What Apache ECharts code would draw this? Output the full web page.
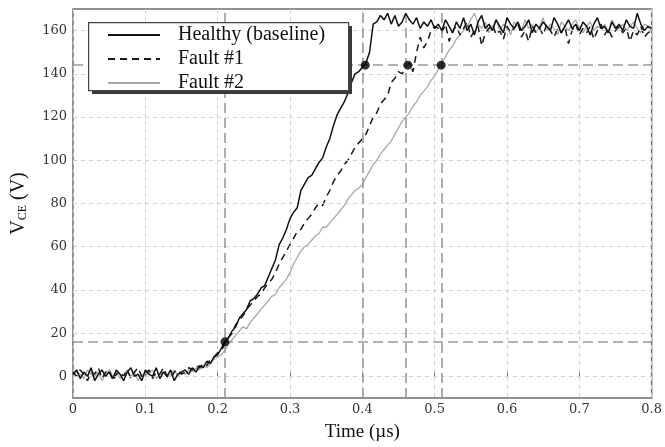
<!DOCTYPE html>
<html>
<head>
<meta charset="utf-8">
<script src="https://cdn.jsdelivr.net/npm/echarts@6/dist/echarts.min.js"></script>
<style>html,body{margin:0;padding:0;background:#fff;}#c{width:665px;height:447px;}</style>
</head>
<body>
<div id="c"></div>
<script>
// sampling step of the recorded waveforms (µs)
const dt = 0.005;
const xTicks = [0, 0.1, 0.2, 0.3, 0.4, 0.5, 0.6, 0.7, 0.8];
const yTicks = [0, 20, 40, 60, 80, 100, 120, 140, 160];

const healthy = [
  1, 3, -1, 2, 0, 4, -2, 1, 3, 0, 2, -1, 3, 1, -2, 2, 4, 0, 1, -2, 3, 1, 0, 4, -1, 2, 0, 3, -2, 1, 2,
  3, 1, 4, 2, 5, 4, 7, 6, 9, 10, 13, 16, 18, 21, 23, 27, 29, 31, 35, 36, 38, 41, 42, 46, 50, 54, 61, 64, 68,
  73, 76, 78, 86, 89, 92, 93, 96, 99, 101, 106, 110, 116, 121, 124, 127, 131, 136, 140, 141,
  143, 145, 150, 163, 164, 167, 165, 168, 163, 167, 162, 164, 168, 165, 163, 166, 161, 164, 162, 165, 161,
  163, 160, 165, 162, 159, 164, 161, 166, 160, 163,
  158, 164, 167, 161, 163, 160, 165, 162, 159, 166,
  163, 161, 164, 160, 162, 165, 159, 163, 161, 164,
  162, 160, 166, 163, 159, 162, 165, 161, 163, 160,
  164, 162, 158, 163, 166, 161, 162, 159, 164, 161,
  163, 160, 165, 162, 161, 168, 163, 160, 162, 161
];
const fault1 = [
  2, 0, 3, 1, -2, 2, 1, 4, -1, 2, 3, -2, 1, 2, 0, 3, -1, 2, 4, 0, 1, 3, -1, 2, 1, 4, 0, -1, 2, 3, 1,
  2, 4, 3, 5, 4, 6, 5, 8, 9, 11, 12, 15, 18, 20, 24, 26, 28, 31, 33, 35, 37, 38, 41, 43, 45, 48, 52, 55, 58,
  61, 64, 67, 68, 71, 73, 75, 78, 80, 79, 83, 86, 90, 93, 95, 98, 100, 103, 106, 108,
  110, 112, 116, 120, 122, 126, 128, 130, 136, 138, 141, 140, 143, 145, 141, 150, 157, 152, 155, 160, 162,
  161, 159, 163, 155, 160, 162, 158, 161, 164, 157,
  160, 162, 153, 159, 161, 163, 158, 160, 156, 162,
  159, 161, 164, 157, 160, 155, 162, 159, 161, 158,
  163, 160, 157, 161, 159, 162, 154, 160, 163, 158,
  161, 159, 162, 156, 160, 163, 158, 161, 157, 160,
  162, 159, 161, 155, 160, 158, 162, 157, 159, 160
];
const fault2 = [
  0, 2, 1, -1, 3, 1, 0, 2, -2, 1, 3, 0, 2, -1, 1, 3, 0, 2, -2, 1, 0, 2, 3, -1, 1, 2, 0, 1, 3, 0, 2,
  1, 3, 2, 4, 3, 5, 4, 6, 8, 9, 10, 12, 15, 17, 19, 21, 23, 22, 25, 27, 29, 31, 33, 35, 37, 38, 41, 43, 45,
  48, 52, 55, 58, 60, 61, 63, 65, 66, 69, 69, 71, 73, 75, 77, 79, 82, 84, 86, 87,
  89, 92, 95, 98, 100, 103, 105, 107, 109, 112, 115, 118, 120, 122, 125, 127, 130, 132, 134, 137, 139,
  142, 145, 148, 151, 153, 156, 158, 160, 162, 165, 168, 163,
  161, 164, 159, 162, 165, 160, 163, 161, 158, 164,
  162, 160, 165, 161, 163, 159, 162, 166, 160, 163,
  161, 158, 164, 162, 160, 163, 165, 161, 159, 162,
  164, 160, 162, 161, 163, 159, 165, 162, 161, 163,
  160, 162, 164, 161, 159, 163, 162, 160
];
// 10% / 90% crossing markers
const crossTimes = [0.21, 0.404, 0.463, 0.509];
const crossLevels = [16, 144, 144, 144];
const refLevels = [16, 144];

function pairs(arr) { return arr.map((v, i) => [+(i * dt).toFixed(3), v]); }

const serif = 'Liberation Serif';
const tickFont = 'DejaVu Serif';

const chart = echarts.init(document.getElementById('c'), null, {renderer: 'canvas'});
chart.setOption({
  animation: false,
  backgroundColor: '#fff',
  grid: {left: 73, right: 10, top: 9, bottom: 43, show: true, borderColor: '#6e6e6e', borderWidth: 1.5, backgroundColor: 'transparent'},
  graphic: [
    {type: 'rect', left: 92, top: 26, z: 90, silent: true,
      shape: {width: 260, height: 68}, style: {fill: '#3a3a3a'}},
    {type: 'rect', left: 88, top: 22, z: 91, silent: true,
      shape: {width: 260, height: 68}, style: {fill: '#fff', stroke: '#444', lineWidth: 1.2}}
  ],
  legend: {
    orient: 'vertical', left: 88, top: 25, z: 95,
    backgroundColor: 'transparent', borderWidth: 0,
    padding: [0, 20, 0, 19], itemGap: 4, itemWidth: 52, itemHeight: 14,
    itemStyle: {opacity: 0},
    textStyle: {fontFamily: serif, fontSize: 20, color: '#111', padding: [0, 0, 0, 13]},
    data: ['Healthy (baseline)', 'Fault #1', 'Fault #2']
  },
  xAxis: {
    type: 'value', min: 0, max: 0.8, interval: 0.1,
    name: 'Time (µs)', nameLocation: 'middle', nameGap: 25,
    nameTextStyle: {fontFamily: serif, fontSize: 19, color: '#111'},
    axisLine: {show: false},
    axisTick: {show: true, inside: true, length: 4, lineStyle: {color: '#777'}},
    axisLabel: {fontFamily: tickFont, fontSize: 13, color: '#333', margin: 5,
      formatter: v => (xTicks.indexOf(+v.toFixed(1)) >= 0 ? String(+v.toFixed(1)) : '')},
    splitLine: {show: true, lineStyle: {color: '#cfcfcf', type: [4, 4], width: 1}}
  },
  yAxis: {
    type: 'value', min: -10, max: 170,
    name: '{v|V}{s|CE}{v| (V)}', nameLocation: 'middle', nameGap: 44, nameRotate: 90,
    nameTextStyle: {color: '#111', rich: {
      v: {fontFamily: serif, fontSize: 20, color: '#111'},
      s: {fontFamily: serif, fontSize: 12, color: '#111', padding: [8, 0, 0, 0]}
    }},
    axisLine: {show: false},
    axisTick: {show: true, inside: true, length: 4, customValues: yTicks, lineStyle: {color: '#777'}},
    axisLabel: {fontFamily: tickFont, fontSize: 13, color: '#333', margin: 6, customValues: yTicks},
    splitLine: {show: false}
  },
  series: [
    {
      name: 'grid', type: 'line', data: [], silent: true, z: 1,
      markLine: {
        silent: true, symbol: 'none', label: {show: false},
        lineStyle: {color: '#cfcfcf', type: [4, 4], width: 1},
        data: yTicks.map(v => ({yAxis: v}))
      }
    },
    {
      name: 'refs', type: 'line', data: [], silent: true, z: 2,
      markLine: {
        silent: true, symbol: 'none', label: {show: false},
        lineStyle: {color: '#9a9a9a', type: [10, 5], width: 1.6},
        data: refLevels.map(v => ({yAxis: v})).concat(crossTimes.map(t => ({xAxis: t})))
      }
    },
    {
      name: 'Fault #2', type: 'line', data: pairs(fault2), symbol: 'none', z: 3,
      lineStyle: {color: '#a8a8a8', width: 1.3}, itemStyle: {color: '#a8a8a8'}
    },
    {
      name: 'Fault #1', type: 'line', data: pairs(fault1), symbol: 'none', z: 4,
      lineStyle: {color: '#1a1a1a', width: 1.5, type: [7, 5]}, itemStyle: {color: '#1a1a1a'}
    },
    {
      name: 'Healthy (baseline)', type: 'line', data: pairs(healthy), symbol: 'none', z: 5,
      lineStyle: {color: '#111', width: 1.5}, itemStyle: {color: '#111'}
    },
    {
      name: 'cross', type: 'scatter', z: 6, symbolSize: 9,
      itemStyle: {color: '#000'},
      data: crossTimes.map((t, i) => [t, crossLevels[i]])
    }
  ]
});
</script>
</body>
</html>
